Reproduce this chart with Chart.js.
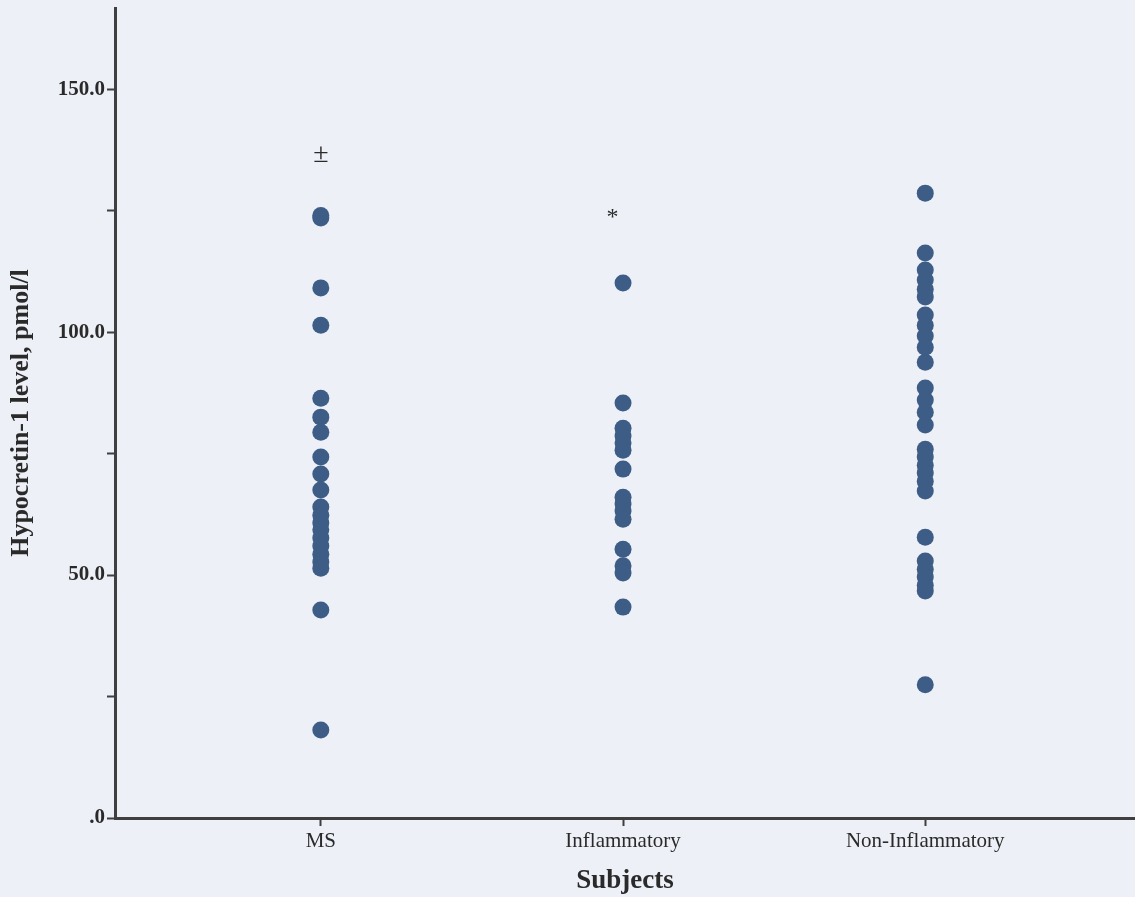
<!DOCTYPE html>
<html>
<head>
<meta charset="utf-8">
<script src="https://cdn.jsdelivr.net/npm/chart.js@4/dist/chart.umd.min.js"></script>
<style>
  html, body { margin: 0; padding: 0; background: #edf0f7; overflow: hidden; }
  canvas { display: block; }
</style>
</head>
<body>
<canvas id="hcrtChart" width="1135" height="897"></canvas>
<script>
/* ============================================================
   DATOS
============================================================ */
const CATEGORIAS = ['MS', 'Inflammatory', 'Non-Inflammatory'];

const valoresMS = [124.0, 123.5, 109.1, 101.4, 86.4, 82.5, 79.4, 74.3, 70.8, 67.5,
                   64.0, 62.3, 60.7, 59.3, 57.6, 56.0, 54.3, 52.7, 51.4, 42.8, 18.1];

const valoresInflam = [110.1, 85.4, 80.2, 78.6, 77.2, 75.7, 71.8, 66.0, 64.6, 63.2,
                       61.5, 55.3, 51.9, 50.4, 43.4];

const valoresNoInflam = [128.6, 116.3, 112.8, 110.7, 108.8, 107.2, 103.5, 101.4, 99.2, 96.9,
                         93.8, 88.5, 86.0, 83.5, 80.9, 75.9, 74.3, 72.6, 71.0, 69.3,
                         67.3, 57.8, 52.9, 51.2, 49.6, 47.9, 46.7, 27.4];

const TICKS_Y = [0, 25, 50, 75, 100, 125, 150];

// marcas de significancia sobre los grupos
const marcaTexto = ['±', '*'];
const marcaGrupo = [1, 1.965];
const marcaValor = [136.5, 123.5];

/* ============================================================
   GRÁFICO
============================================================ */
const COLOR_PUNTO = '#3d5d86';
const COLOR_EJE = '#3f3f3f';
const SERIF = '"Liberation Serif", "Times New Roman", serif';

const puntos = [valoresMS, valoresInflam, valoresNoInflam]
    .flatMap((lista, i) => lista.map(v => ({ x: i + 1, y: v })));

const marcasPlugin = {
    id: 'marcas',
    afterDatasetsDraw(chart) {
        const { ctx, scales: { x, y } } = chart;
        ctx.save();
        ctx.fillStyle = '#2a2a2a';
        ctx.textAlign = 'center';
        ctx.textBaseline = 'middle';
        marcaTexto.forEach((t, i) => {
            ctx.font = `${t === '*' ? 24 : 28}px ${SERIF}`;
            ctx.fillText(t, x.getPixelForValue(marcaGrupo[i]), y.getPixelForValue(marcaValor[i]));
        });
        ctx.restore();
    }
};

new Chart(document.getElementById('hcrtChart'), {
    type: 'scatter',
    data: {
        datasets: [{
            data: puntos,
            backgroundColor: COLOR_PUNTO,
            borderColor: COLOR_PUNTO,
            borderWidth: 0,
            pointRadius: 8.5,
            pointHoverRadius: 8.5
        }]
    },
    options: {
        responsive: false,
        animation: false,
        layout: { autoPadding: false, padding: { top: 8, right: 0, bottom: 0, left: 0 } },
        plugins: { legend: { display: false }, tooltip: { enabled: false } },
        scales: {
            x: {
                type: 'linear',
                min: 0.319,
                max: 3.694,
                afterBuildTicks: s => { s.ticks = CATEGORIAS.map((c, i) => ({ value: i + 1 })); },
                afterFit: s => { s.height = 79; s.paddingLeft = 0; s.paddingRight = 0; },
                grid: { drawOnChartArea: false, tickLength: 8, tickWidth: 2, tickColor: COLOR_EJE },
                border: { display: true, color: COLOR_EJE, width: 3 },
                ticks: {
                    padding: 3,
                    color: '#2a2a2a',
                    font: { family: SERIF, size: 21 },
                    maxRotation: 0,
                    callback: v => CATEGORIAS[v - 1] || ''
                },
                title: {
                    display: true,
                    text: 'Subjects',
                    color: '#2a2a2a',
                    font: { family: SERIF, size: 27, weight: 'bold' },
                    padding: { top: 0, bottom: 0 }
                }
            },
            y: {
                min: 0,
                max: 166.7,
                afterBuildTicks: s => { s.ticks = TICKS_Y.map(v => ({ value: v })); },
                afterFit: s => { s.width = 115; s.paddingTop = 0; s.paddingBottom = 0; },
                grid: { drawOnChartArea: false, tickLength: 8, tickWidth: 2, tickColor: COLOR_EJE },
                border: { display: true, color: COLOR_EJE, width: 3 },
                ticks: {
                    padding: 2,
                    color: '#2a2a2a',
                    font: { family: SERIF, size: 21, weight: 'bold' },
                    callback: v => v % 50 ? '' : (v === 0 ? '.0' : v.toFixed(1))
                },
                title: {
                    display: true,
                    text: 'Hypocretin-1 level, pmol/l',
                    color: '#2a2a2a',
                    font: { family: SERIF, size: 26, weight: 'bold' },
                    padding: { top: 6, bottom: 0 }
                }
            }
        }
    },
    plugins: [marcasPlugin]
});
</script>
</body>
</html>
